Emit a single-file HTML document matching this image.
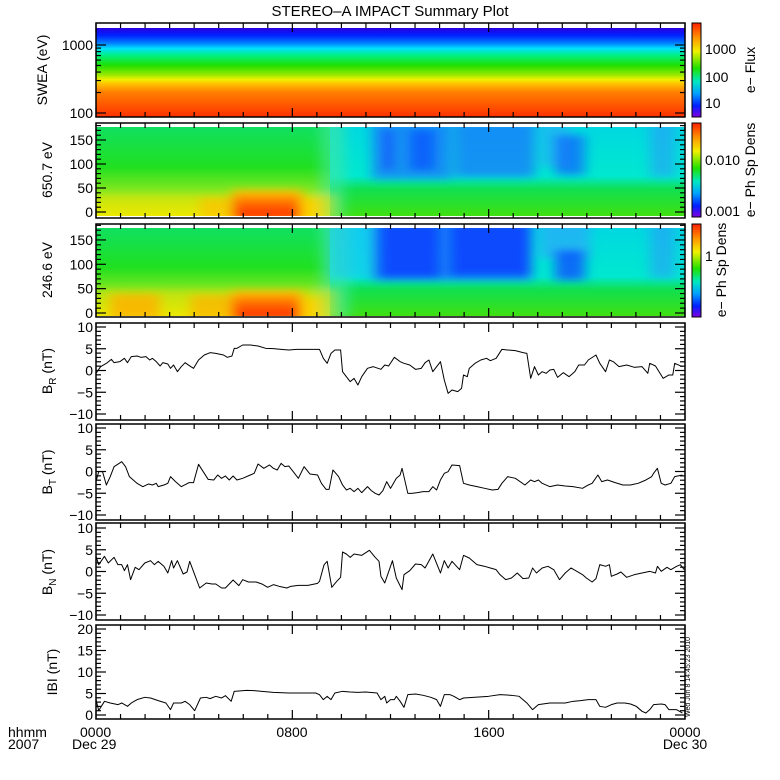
<!DOCTYPE html>
<html><head><meta charset="utf-8"><style>
html,body{margin:0;padding:0;background:#fff;}
svg{display:block;font-family:"Liberation Sans",sans-serif;}
</style></head><body>
<svg id="s" width="780" height="780" viewBox="0 0 780 780" xmlns="http://www.w3.org/2000/svg">
<defs>
<linearGradient id="g1" x1="0" y1="0" x2="0" y2="1">
<stop offset="0" stop-color="#2a00e0"/><stop offset="0.08" stop-color="#0020ff"/><stop offset="0.17" stop-color="#0080ff"/><stop offset="0.23" stop-color="#00e0ff"/><stop offset="0.31" stop-color="#00f080"/><stop offset="0.42" stop-color="#20e000"/><stop offset="0.52" stop-color="#90e800"/><stop offset="0.58" stop-color="#f0f000"/><stop offset="0.63" stop-color="#ffc000"/><stop offset="0.72" stop-color="#ff8000"/><stop offset="1" stop-color="#ff3000"/>
</linearGradient>
<linearGradient id="cb" x1="0" y1="0" x2="0" y2="1">
<stop offset="0" stop-color="#ff2000"/><stop offset="0.15" stop-color="#ff9000"/><stop offset="0.3" stop-color="#f0f000"/><stop offset="0.48" stop-color="#20e000"/><stop offset="0.62" stop-color="#00e8c0"/><stop offset="0.75" stop-color="#00a0ff"/><stop offset="0.88" stop-color="#0020ff"/><stop offset="1" stop-color="#8000e0"/>
</linearGradient>
<linearGradient id="gL" x1="0" y1="0" x2="0" y2="1">
<stop offset="0" stop-color="#10e060"/><stop offset="0.45" stop-color="#20e020"/><stop offset="0.75" stop-color="#90e820"/><stop offset="1" stop-color="#e8f000"/>
</linearGradient>
<linearGradient id="gR" x1="0" y1="0" x2="0" y2="1">
<stop offset="0" stop-color="#00d8e0"/><stop offset="0.55" stop-color="#00e8d0"/><stop offset="0.7" stop-color="#10e050"/><stop offset="1" stop-color="#40e010"/>
</linearGradient>
<linearGradient id="gRed" x1="0" y1="0" x2="0" y2="1">
<stop offset="0" stop-color="#ffd000"/><stop offset="0.4" stop-color="#ff7000"/><stop offset="1" stop-color="#ff2000"/>
</linearGradient>
<filter id="bl" x="-50%" y="-50%" width="200%" height="200%"><feGaussianBlur stdDeviation="6 4"/></filter>
<clipPath id="c2"><rect x="96" y="127" width="589" height="89"/></clipPath>
<clipPath id="c3"><rect x="96" y="228" width="589" height="88"/></clipPath>
</defs>

<text x="390" y="16" font-size="15" text-anchor="middle">STEREO–A IMPACT Summary Plot</text>

<rect x="96" y="28" width="589" height="89" fill="url(#g1)"/>

<g clip-path="url(#c2)">
<rect x="96" y="127" width="240" height="89" fill="url(#gL)"/>
<rect x="330" y="127" width="355" height="89" fill="url(#gR)"/>
<g filter="url(#bl)">
<rect x="320" y="120" width="25" height="100" fill="#40e8a0" opacity="0.6"/>
<rect x="372" y="122" width="80" height="57" fill="#1870ff" opacity="0.7"/>
<rect x="385" y="130" width="6" height="40" fill="#0a30ff"/>
<rect x="410" y="130" width="25" height="40" fill="#1050ff" opacity="0.7"/>
<rect x="455" y="122" width="80" height="55" fill="#1870ff" opacity="0.7"/>
<rect x="540" y="122" width="30" height="45" fill="#30a0ff" opacity="0.5"/>
<rect x="555" y="135" width="30" height="40" fill="#1060ff" opacity="0.7"/>
<rect x="650" y="122" width="25" height="55" fill="#3090ff" opacity="0.5"/>
<rect x="96" y="195" width="240" height="25" fill="#f0e000" opacity="0.5"/>
<rect x="200" y="198" width="30" height="22" fill="#ffc000" opacity="0.7"/>
<rect x="232" y="190" width="70" height="30" fill="url(#gRed)"/>
<rect x="300" y="198" width="22" height="22" fill="#ffd000" opacity="0.8"/>
</g>
</g>

<g clip-path="url(#c3)">
<rect x="96" y="228" width="240" height="88" fill="url(#gL)"/>
<rect x="330" y="228" width="355" height="88" fill="url(#gR)"/>
<g filter="url(#bl)">
<rect x="320" y="220" width="30" height="100" fill="#40e8a0" opacity="0.6"/>
<rect x="330" y="222" width="40" height="56" fill="#20c0ff" opacity="0.5"/>
<rect x="372" y="222" width="160" height="58" fill="#1870ff" opacity="0.8"/>
<rect x="380" y="222" width="60" height="56" fill="#0a40ff" opacity="0.85"/>
<rect x="450" y="222" width="80" height="54" fill="#0a40ff" opacity="0.85"/>
<rect x="540" y="222" width="50" height="36" fill="#30a0ff" opacity="0.6"/>
<rect x="555" y="250" width="30" height="30" fill="#0a50ff" opacity="0.8"/>
<rect x="650" y="222" width="25" height="56" fill="#3090ff" opacity="0.5"/>
<rect x="96" y="290" width="240" height="30" fill="#f0e000" opacity="0.5"/>
<rect x="110" y="294" width="50" height="26" fill="#ffb000" opacity="0.8"/>
<rect x="190" y="295" width="50" height="25" fill="#ffb000" opacity="0.7"/>
<rect x="232" y="290" width="70" height="30" fill="url(#gRed)"/>
<rect x="300" y="298" width="22" height="22" fill="#ffd000" opacity="0.8"/>
</g>
</g>

<rect x="692" y="23" width="9" height="94" fill="url(#cb)" stroke="#000"/>
<rect x="692" y="123" width="9" height="94" fill="url(#cb)" stroke="#000"/>
<rect x="692" y="224" width="9" height="93" fill="url(#cb)" stroke="#000"/>
<g font-size="14">
<text x="705" y="54">1000</text><text x="705" y="82">100</text><text x="705" y="108">10</text>
<text x="705" y="165">0.010</text><text x="705" y="216">0.001</text>
<text x="705" y="261">1</text>
</g>
<g font-size="14" text-anchor="middle">
<text transform="translate(755,70) rotate(-90)">e− Flux</text>
<text transform="translate(755,170) rotate(-90)">e− Ph Sp Dens</text>
<text transform="translate(726,270) rotate(-90)">e− Ph Sp Dens</text>
<text transform="translate(47,70) rotate(-90)">SWEA (eV)</text>
<text transform="translate(52,170) rotate(-90)">650.7 eV</text>
<text transform="translate(52,270) rotate(-90)">246.6 eV</text>
<text transform="translate(52,371) rotate(-90)">B<tspan font-size="10" dy="4">R</tspan><tspan dy="-4"> (nT)</tspan></text>
<text transform="translate(52,472) rotate(-90)">B<tspan font-size="10" dy="4">T</tspan><tspan dy="-4"> (nT)</tspan></text>
<text transform="translate(52,572) rotate(-90)">B<tspan font-size="10" dy="4">N</tspan><tspan dy="-4"> (nT)</tspan></text>
<text transform="translate(57,672) rotate(-90)">IBI (nT)</text>
</g>
<text transform="translate(690,717) rotate(-90)" font-size="7">Wed Jun  8 14:45:23 2010</text>

<g font-size="14">
<text x="8" y="737">hhmm</text><text x="8" y="749">2007</text>
<text x="80" y="737">0000</text><text x="72" y="749">Dec 29</text>
<text x="292" y="737" text-anchor="middle">0800</text>
<text x="489" y="737" text-anchor="middle">1600</text>
<text x="685" y="737" text-anchor="middle">0000</text>
<text x="685" y="749" text-anchor="middle">Dec 30</text>
</g>

<g id="frames" fill="none" stroke="#000" stroke-width="1.5"></g>
<g id="ticks" stroke="#000" stroke-width="1.2"></g>
<g id="labs" font-size="14" text-anchor="end"></g>

<g fill="none" stroke="#000" stroke-width="1" stroke-linejoin="round">
<g transform="translate(96,320) scale(0.384,0.3333) translate(-18,0)">
<polyline vector-effect="non-scaling-stroke" points="18,160 30,140 45,130 58,118 65,128 80,125 92,115 100,128 110,110 125,108 135,112 148,110 158,120 165,115 175,125 185,138 192,128 205,132 212,145 220,135 230,155 240,140 250,128 265,140 272,145 285,120 300,105 315,98 330,100 350,105 360,112 372,108 378,85 385,85 400,75 420,75 440,78 460,85 480,86 500,88 520,90 540,88 560,88 600,88 610,115 620,130 630,100 640,90 655,90 660,155 670,170 680,185 690,175 700,195 710,170 725,145 740,140 760,148 770,135 780,138 795,112 810,125 820,130 835,135 850,148 865,145 875,128 885,120 895,155 905,140 915,125 925,180 935,220 945,210 960,215 970,205 975,165 985,170 990,145 1005,130 1020,120 1035,115 1045,122 1060,115 1075,88 1090,90 1110,92 1130,98 1140,100 1150,175 1160,140 1170,165 1180,155 1190,160 1200,150 1210,148 1220,172 1235,158 1250,170 1265,155 1275,135 1290,135 1300,120 1320,105 1330,130 1345,155 1355,120 1365,125 1380,140 1400,135 1420,142 1440,140 1455,160 1460,130 1475,138 1495,175 1510,165 1520,165 1525,130 1545,140"/>
<polyline vector-effect="non-scaling-stroke" points="18,485 25,455 35,455 45,495 55,470 65,440 85,425 95,440 105,470 125,490 140,500 155,492 165,495 175,490 180,500 195,495 205,490 212,470 225,485 240,500 260,488 272,488 285,433 300,460 310,478 325,480 335,465 345,475 355,468 365,480 375,468 385,480 400,475 420,465 430,460 440,432 455,445 470,435 480,445 490,450 500,430 510,440 520,438 535,460 545,475 560,440 575,462 595,465 605,490 617,508 625,508 635,450 650,470 660,495 670,510 680,505 690,515 700,505 710,518 725,500 735,512 745,520 755,525 765,512 775,485 785,505 800,475 810,465 815,445 830,520 840,520 855,518 870,515 885,515 895,500 905,510 915,480 925,460 935,455 945,435 965,437 975,490 990,495 1010,500 1030,505 1050,510 1065,508 1075,490 1090,470 1110,475 1135,495 1150,480 1160,485 1170,480 1180,490 1200,500 1220,495 1240,498 1260,500 1285,505 1300,495 1310,490 1325,465 1335,485 1350,480 1370,488 1390,495 1410,495 1430,490 1450,480 1465,470 1470,460 1480,445 1490,490 1500,495 1515,490 1525,470 1545,465"/>
</g>
<g transform="translate(96,518) scale(0.384,0.3333) translate(-18,0)">
<polyline vector-effect="non-scaling-stroke" points="18,115 25,140 40,115 50,135 65,118 75,140 85,140 92,158 100,140 108,185 120,148 130,155 145,135 160,128 170,140 180,130 195,145 205,165 215,128 220,150 230,128 245,168 255,162 262,130 275,170 288,210 305,195 320,198 330,198 345,210 355,210 375,186 390,203 400,185 415,192 435,192 450,198 465,208 480,200 495,205 515,210 525,205 545,202 570,202 595,196 600,190 612,140 620,130 632,208 645,190 655,178 660,102 670,108 680,118 690,108 710,112 730,97 745,118 755,130 760,175 770,195 790,128 800,180 815,215 820,170 835,158 850,138 865,140 875,150 895,108 915,165 925,128 935,150 945,130 965,155 975,112 990,120 1010,140 1030,145 1045,150 1060,155 1070,170 1085,185 1100,180 1115,165 1130,182 1145,180 1155,150 1165,165 1180,150 1195,145 1210,155 1225,185 1240,165 1255,150 1270,160 1285,170 1295,180 1310,192 1320,182 1330,140 1345,145 1355,140 1360,175 1375,168 1385,162 1400,178 1420,170 1440,165 1460,160 1475,165 1480,145 1490,160 1505,148 1515,155 1530,145 1540,140 1550,155"/>
<polyline vector-effect="non-scaling-stroke" points="18,545 25,578 40,550 55,555 75,560 85,555 100,565 110,555 125,545 145,538 160,540 180,548 200,555 212,575 220,555 240,555 250,550 262,560 275,578 290,540 305,538 315,542 330,535 345,540 355,533 370,550 378,520 410,517 430,518 450,520 480,523 520,525 560,525 590,525 600,530 610,545 620,535 630,545 640,525 660,520 680,522 700,523 720,522 750,525 760,545 770,535 775,555 785,545 795,545 800,535 810,550 820,568 830,530 850,528 870,532 890,538 905,545 915,565 925,530 940,530 950,535 965,545 975,540 1000,538 1040,535 1070,530 1100,532 1120,535 1140,555 1155,575 1170,560 1200,555 1220,555 1240,555 1260,550 1280,548 1300,545 1320,545 1330,565 1345,568 1360,560 1375,555 1395,555 1410,558 1425,565 1440,580 1450,585 1460,575 1470,560 1490,558 1500,560 1510,575 1530,575 1545,585"/>
</g>
</g>

<script>
(function(){
var NS="http://www.w3.org/2000/svg";
function el(p,t,a,txt){var e=document.createElementNS(NS,t);for(var k in a)e.setAttribute(k,a[k]);if(txt!==undefined)e.textContent=txt;document.getElementById(p).appendChild(e);}
var L=96,R=685;
var panels=[[23,117],[123,218],[224,317],[323,420],[424,520],[523,620],[625,719]];
panels.forEach(function(p){
 el("frames","rect",{x:L,y:p[0],width:R-L,height:p[1]-p[0]});
 for(var h=0;h<=24;h++){var x=L+(R-L)*h/24;var len=(h%8==0)?9:5;
  el("ticks","line",{x1:x,y1:p[0],x2:x,y2:p[0]+len});el("ticks","line",{x1:x,y1:p[1],x2:x,y2:p[1]-len});}
});
function yt(y,major,lab){var len=major?10:5;el("ticks","line",{x1:L,y1:y,x2:L+len,y2:y});el("ticks","line",{x1:R,y1:y,x2:R-len,y2:y});if(lab!==undefined)el("labs","text",{x:93,y:y+5},lab);}
function ly(v){return 113-68*Math.log10(v/100);}
[200,300,400,500,600,700,800,900,2000].forEach(function(v){var y=ly(v);if(y>28)yt(y,false);});
yt(ly(100),true,"100");yt(ly(1000),true,"1000");
[[212,0.48],[313,0.487]].forEach(function(q){
 for(var a=0;a<=180;a+=10){var y=q[0]-a*q[1];yt(y,a%50==0,a%50==0?String(a):undefined);}
});
[[370.5,4.35,-10,10,5],[471.5,4.35,-10,10,5],[571.5,4.35,-10,10,5],[715,4.3,0,20,5]].forEach(function(q){
 for(var v=q[2];v<=q[3];v++){var y=q[0]-v*q[1];var m=(v%q[4]==0);yt(y,m,m?(v<0?"\u2212"+(-v):String(v)):undefined);}
});
})();
</script>
</svg>
</body></html>
